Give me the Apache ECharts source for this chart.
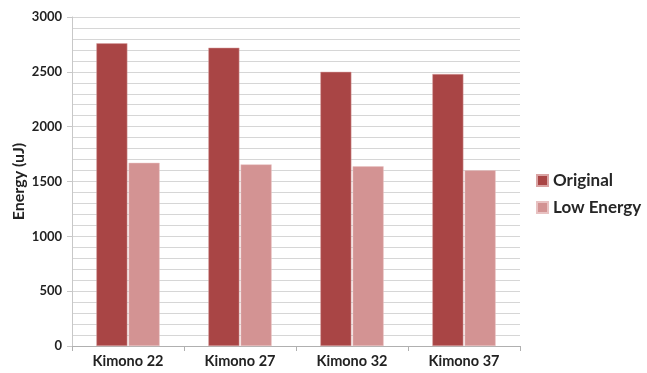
<!DOCTYPE html>
<html>
<head>
<meta charset="utf-8">
<script src="https://cdn.jsdelivr.net/npm/echarts@6/dist/echarts.min.js"></script>
<style>
html,body{margin:0;padding:0;background:#fff;}
#chart{width:647px;height:373px;}
</style>
</head>
<body>
<div id="chart"></div>
<script>
// chart values
const categories=["Kimono 22","Kimono 27","Kimono 32","Kimono 37"];
const originalValues=[2760,2720,2500,2480];
const lowEnergyValues=[1670,1656,1638,1602];

const chart=echarts.init(document.getElementById("chart"));

const font="Lato, 'Open Sans', sans-serif";

chart.setOption({
    backgroundColor:"#ffffff",
    animation:false,
    grid:{
        left:72,
        right:127,
        top:17,
        bottom:27,
        outerBoundsMode:"none"
    },
    legend:{
        orient:"vertical",
        left:531,
        top:167,
        itemWidth:11,
        itemHeight:11,
        itemGap:10,
        icon:"rect",
        textStyle:{
            fontFamily:font,
            fontWeight:"bold",
            fontSize:17,
            color:"#262626"
        },
        data:["Original","Low Energy"]
    },
    xAxis:{
        type:"category",
        data:categories,
        axisLine:{lineStyle:{color:"#b0b0b0"}},
        axisTick:{show:true,length:5,lineStyle:{color:"#b0b0b0"}},
        axisLabel:{
            fontFamily:font,
            fontWeight:"bold",
            fontSize:14.5,
            color:"#222",
            margin:8
        }
    },
    yAxis:{
        type:"value",
        min:0,
        max:3000,
        interval:500,
        name:"Energy (uJ)",
        nameLocation:"middle",
        nameGap:45,
        nameMoveOverlap:false,
        nameTextStyle:{
            fontFamily:font,
            fontWeight:"bold",
            fontSize:16,
            color:"#222"
        },
        axisLine:{show:true,lineStyle:{color:"#c8c8c8"}},
        axisTick:{show:true,length:5,lineStyle:{color:"#c8c8c8"}},
        axisLabel:{
            fontFamily:font,
            fontWeight:"bold",
            fontSize:13,
            color:"#222",
            margin:10,
            formatter:value=>String(value)
        },
        splitLine:{lineStyle:{color:"#d6d6d6"}},
        minorTick:{show:false,splitNumber:5},
        minorSplitLine:{show:true,lineStyle:{color:"#d6d6d6"}}
    },
    series:[
        {
            name:"Original",
            type:"bar",
            data:originalValues,
            barWidth:31,
            barGap:"4%",
            itemStyle:{
                color:"#a94545",
                borderColor:"#d9a3a3",
                borderWidth:0.5
            }
        },
        {
            name:"Low Energy",
            type:"bar",
            data:lowEnergyValues,
            barWidth:31,
            itemStyle:{
                color:"#d39393",
                borderColor:"#e8c2c2",
                borderWidth:0.5
            }
        }
    ]
});
</script>
</body>
</html>
